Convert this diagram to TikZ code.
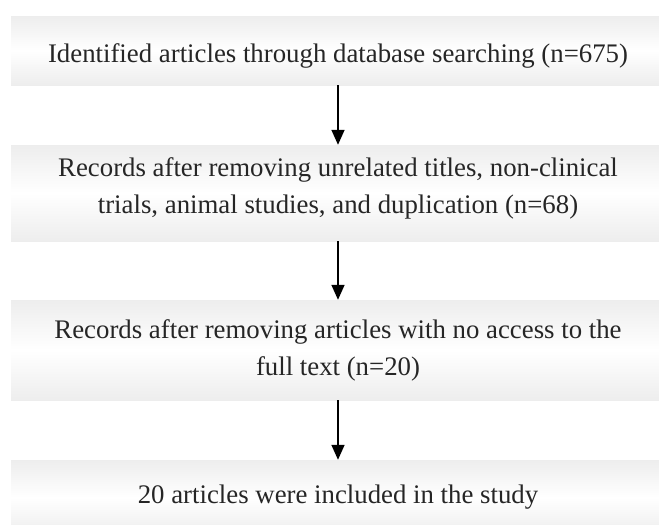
\documentclass[tikz,border=0pt]{standalone}
\usepackage{fontspec}
\setmainfont{Liberation Serif}
\usepackage{tikz}
\usetikzlibrary{arrows.meta}

\begin{document}
\begin{tikzpicture}[x=1pt, y=1pt,
    stagebox/.style={rectangle, minimum width=654pt, inner sep=0pt,
        top color=black!7, bottom color=black!7, middle color=white,
        align=center, text=black!85,
        font=\fontsize{26.8}{37}\selectfont},
    flowarrow/.style={line width=1.6pt,
        -{Triangle[length=15pt, width=13pt]}}]
    % canvas
    \useasboundingbox (0, 0) rectangle (659, -525);

    % stages
    \node[stagebox, minimum height=69pt, text height=24pt, text depth=1pt]
        (found) at (338, -50.5)
        {Identified articles through database searching (n=675)};
    \node[stagebox, minimum height=96pt] (screened) at (338, -193)
        {Records after removing unrelated titles, non-clinical\\
         trials, animal studies, and duplication (n=68)\rule[-14pt]{0pt}{0pt}};
    \node[stagebox, minimum height=100pt] (fulltext) at (338, -350)
        {Records after removing articles with no access to the\\
         full text (n=20)};
    \node[stagebox, minimum height=75pt] (included) at (338, -497.5)
        {20 articles were included in the study};

    % arrows
    \draw[flowarrow] (found) -- (screened);
    \draw[flowarrow] (screened) -- (fulltext);
    \draw[flowarrow] (fulltext) -- (included);
\end{tikzpicture}
\end{document}
